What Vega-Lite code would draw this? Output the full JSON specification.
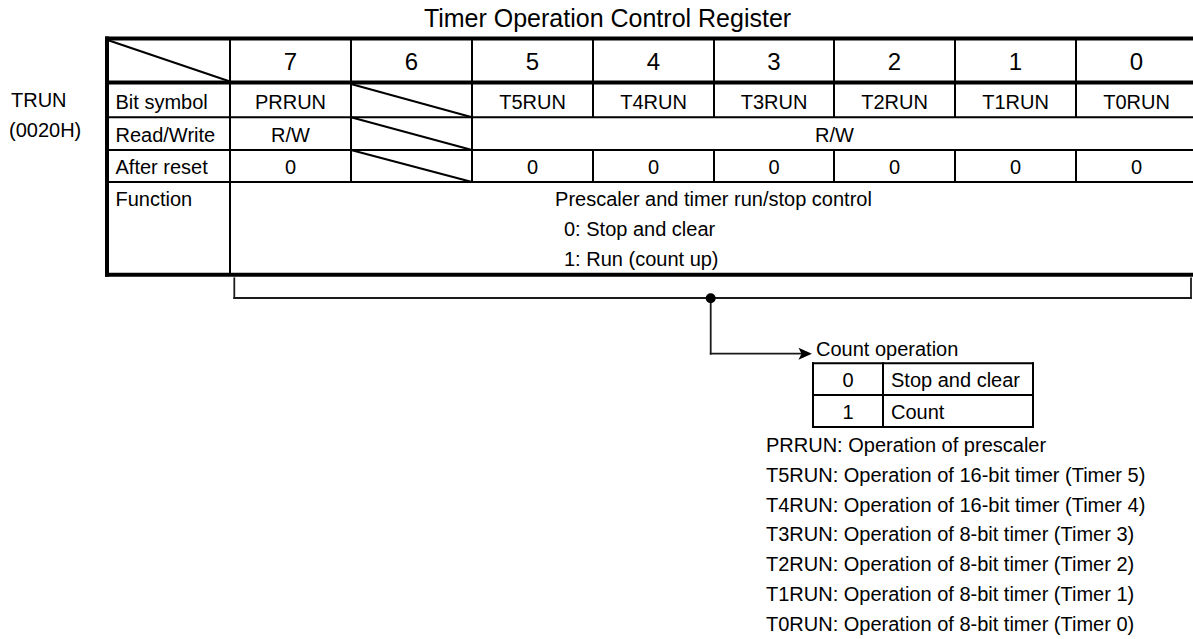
{
  "$schema": "https://vega.github.io/schema/vega-lite/v6.json",
  "width": 1193,
  "height": 639,
  "autosize": "none",
  "padding": 0,
  "background": "white",
  "config": {"view": {"stroke": null}},
  "datasets": {
    "lines": [
      {"x": 107, "y": 38.5, "x2": 1197, "y2": 38.5, "kind": "frame"},
      {"x": 107, "y": 82.5, "x2": 1197, "y2": 82.5, "kind": "frame"},
      {"x": 107, "y": 274.7, "x2": 1197, "y2": 274.7, "kind": "frame"},
      {"x": 107, "y": 38.5, "x2": 107, "y2": 274.7, "kind": "frame"},
      {"x": 107, "y": 117.3, "x2": 1197, "y2": 117.3, "kind": "grid"},
      {"x": 107, "y": 150, "x2": 1197, "y2": 150, "kind": "grid"},
      {"x": 107, "y": 182, "x2": 1197, "y2": 182, "kind": "grid"},
      {"x": 230, "y": 38.5, "x2": 230, "y2": 274.7, "kind": "grid"},
      {"x": 351, "y": 38.5, "x2": 351, "y2": 182, "kind": "grid"},
      {"x": 472, "y": 38.5, "x2": 472, "y2": 182, "kind": "grid"},
      {"x": 593, "y": 38.5, "x2": 593, "y2": 117.3, "kind": "grid"},
      {"x": 714, "y": 38.5, "x2": 714, "y2": 117.3, "kind": "grid"},
      {"x": 834, "y": 38.5, "x2": 834, "y2": 117.3, "kind": "grid"},
      {"x": 955, "y": 38.5, "x2": 955, "y2": 117.3, "kind": "grid"},
      {"x": 1076, "y": 38.5, "x2": 1076, "y2": 117.3, "kind": "grid"},
      {"x": 593, "y": 150, "x2": 593, "y2": 182, "kind": "grid"},
      {"x": 714, "y": 150, "x2": 714, "y2": 182, "kind": "grid"},
      {"x": 834, "y": 150, "x2": 834, "y2": 182, "kind": "grid"},
      {"x": 955, "y": 150, "x2": 955, "y2": 182, "kind": "grid"},
      {"x": 1076, "y": 150, "x2": 1076, "y2": 182, "kind": "grid"},
      {"x": 109, "y": 40.5, "x2": 230, "y2": 81.5, "kind": "grid"},
      {"x": 351, "y": 84, "x2": 472, "y2": 117.3, "kind": "grid"},
      {"x": 351, "y": 117.3, "x2": 472, "y2": 150, "kind": "grid"},
      {"x": 351, "y": 150, "x2": 472, "y2": 182, "kind": "grid"},
      {"x": 234.3, "y": 278.3, "x2": 234.3, "y2": 298, "kind": "conn"},
      {"x": 234.3, "y": 298, "x2": 1191, "y2": 298, "kind": "conn"},
      {"x": 1191, "y": 278.3, "x2": 1191, "y2": 298, "kind": "conn"},
      {"x": 710.7, "y": 298, "x2": 710.7, "y2": 353.7, "kind": "conn"},
      {"x": 710.7, "y": 353.7, "x2": 803, "y2": 353.7, "kind": "conn"},
      {"x": 813, "y": 363.3, "x2": 1033, "y2": 363.3, "kind": "box"},
      {"x": 813, "y": 395, "x2": 1033, "y2": 395, "kind": "box"},
      {"x": 813, "y": 427, "x2": 1033, "y2": 427, "kind": "box"},
      {"x": 813, "y": 363.3, "x2": 813, "y2": 427, "kind": "box"},
      {"x": 1033, "y": 363.3, "x2": 1033, "y2": 427, "kind": "box"},
      {"x": 883, "y": 363.3, "x2": 883, "y2": 427, "kind": "box"}
    ],
    "marks": [
      {"x": 710.7, "y": 298.3, "kind": "dot"},
      {"x": 805.2, "y": 353.7, "kind": "arrow"}
    ],
    "texts": [
      {"x": 607.5, "y": 27, "label": "Timer Operation Control Register", "kind": "title"},
      {"x": 290.5, "y": 70, "label": "7", "kind": "big"},
      {"x": 411.5, "y": 70, "label": "6", "kind": "big"},
      {"x": 532.5, "y": 70, "label": "5", "kind": "big"},
      {"x": 653.5, "y": 70, "label": "4", "kind": "big"},
      {"x": 774, "y": 70, "label": "3", "kind": "big"},
      {"x": 894.5, "y": 70, "label": "2", "kind": "big"},
      {"x": 1015.5, "y": 70, "label": "1", "kind": "big"},
      {"x": 1136.5, "y": 70, "label": "0", "kind": "big"},
      {"x": 290.5, "y": 108.8, "label": "PRRUN", "kind": "center"},
      {"x": 532.5, "y": 108.8, "label": "T5RUN", "kind": "center"},
      {"x": 653.5, "y": 108.8, "label": "T4RUN", "kind": "center"},
      {"x": 774, "y": 108.8, "label": "T3RUN", "kind": "center"},
      {"x": 894.5, "y": 108.8, "label": "T2RUN", "kind": "center"},
      {"x": 1015.5, "y": 108.8, "label": "T1RUN", "kind": "center"},
      {"x": 1136.5, "y": 108.8, "label": "T0RUN", "kind": "center"},
      {"x": 290.5, "y": 141.7, "label": "R/W", "kind": "center"},
      {"x": 834.5, "y": 141.7, "label": "R/W", "kind": "center"},
      {"x": 290.5, "y": 174, "label": "0", "kind": "center"},
      {"x": 532.5, "y": 174, "label": "0", "kind": "center"},
      {"x": 653.5, "y": 174, "label": "0", "kind": "center"},
      {"x": 774, "y": 174, "label": "0", "kind": "center"},
      {"x": 894.5, "y": 174, "label": "0", "kind": "center"},
      {"x": 1015.5, "y": 174, "label": "0", "kind": "center"},
      {"x": 1136.5, "y": 174, "label": "0", "kind": "center"},
      {"x": 713.5, "y": 205.7, "label": "Prescaler and timer run/stop control", "kind": "center"},
      {"x": 848, "y": 387.3, "label": "0", "kind": "center"},
      {"x": 848, "y": 419, "label": "1", "kind": "center"},
      {"x": 11, "y": 107.3, "label": "TRUN", "kind": "left"},
      {"x": 9, "y": 137.3, "label": "(0020H)", "kind": "left"},
      {"x": 115.5, "y": 109, "label": "Bit symbol", "kind": "left"},
      {"x": 115.5, "y": 141.7, "label": "Read/Write", "kind": "left"},
      {"x": 115.5, "y": 174, "label": "After reset", "kind": "left"},
      {"x": 115.5, "y": 205.7, "label": "Function", "kind": "left"},
      {"x": 564, "y": 235.7, "label": "0: Stop and clear", "kind": "left"},
      {"x": 564, "y": 265.7, "label": "1: Run (count up)", "kind": "left"},
      {"x": 816, "y": 355.5, "label": "Count operation", "kind": "left"},
      {"x": 891, "y": 387.3, "label": "Stop and clear", "kind": "left"},
      {"x": 891, "y": 419, "label": "Count", "kind": "left"},
      {"x": 766, "y": 451.7, "label": "PRRUN: Operation of prescaler", "kind": "left"},
      {"x": 766, "y": 481.7, "label": "T5RUN: Operation of 16-bit timer (Timer 5)", "kind": "left"},
      {"x": 766, "y": 511.5, "label": "T4RUN: Operation of 16-bit timer (Timer 4)", "kind": "left"},
      {"x": 766, "y": 541.3, "label": "T3RUN: Operation of 8-bit timer (Timer 3)", "kind": "left"},
      {"x": 766, "y": 571.2, "label": "T2RUN: Operation of 8-bit timer (Timer 2)", "kind": "left"},
      {"x": 766, "y": 601, "label": "T1RUN: Operation of 8-bit timer (Timer 1)", "kind": "left"},
      {"x": 766, "y": 630.8, "label": "T0RUN: Operation of 8-bit timer (Timer 0)", "kind": "left"}
    ]
  },
  "encoding": {
    "x": {"field": "x", "type": "quantitative", "scale": {"domain": [0, 1193], "nice": false, "zero": false}, "axis": null},
    "y": {"field": "y", "type": "quantitative", "scale": {"domain": [0, 639], "nice": false, "zero": false, "reverse": true}, "axis": null}
  },
  "layer": [
    {
      "data": {"name": "lines"},
      "transform": [{"filter": "datum.kind === 'grid'"}],
      "mark": {"type": "rule", "color": "#000000", "strokeWidth": 2, "clip": true},
      "encoding": {"x2": {"field": "x2"}, "y2": {"field": "y2"}}
    },
    {
      "data": {"name": "lines"},
      "transform": [{"filter": "datum.kind === 'conn'"}],
      "mark": {"type": "rule", "color": "#1a1a1a", "strokeWidth": 1.8, "strokeCap": "square", "clip": true},
      "encoding": {"x2": {"field": "x2"}, "y2": {"field": "y2"}}
    },
    {
      "data": {"name": "lines"},
      "transform": [{"filter": "datum.kind === 'box'"}],
      "mark": {"type": "rule", "color": "#000000", "strokeWidth": 2, "strokeCap": "square", "clip": true},
      "encoding": {"x2": {"field": "x2"}, "y2": {"field": "y2"}}
    },
    {
      "data": {"name": "lines"},
      "transform": [{"filter": "datum.kind === 'frame'"}],
      "mark": {"type": "rule", "color": "#000000", "strokeWidth": 4, "strokeCap": "square", "clip": true},
      "encoding": {"x2": {"field": "x2"}, "y2": {"field": "y2"}}
    },
    {
      "data": {"name": "marks"},
      "transform": [{"filter": "datum.kind === 'dot'"}],
      "mark": {"type": "point", "shape": "circle", "filled": true, "color": "#000000", "opacity": 1, "size": 100}
    },
    {
      "data": {"name": "marks"},
      "transform": [{"filter": "datum.kind === 'arrow'"}],
      "mark": {"type": "point", "shape": "M1,0L-1,-0.9L-0.55,0L-1,0.9Z", "filled": true, "color": "#000000", "opacity": 1, "size": 180}
    },
    {
      "data": {"name": "texts"},
      "transform": [{"filter": "datum.kind === 'title'"}],
      "mark": {"type": "text", "font": "Liberation Sans", "fontSize": 25, "align": "center", "baseline": "alphabetic", "color": "#000000"},
      "encoding": {"text": {"field": "label"}}
    },
    {
      "data": {"name": "texts"},
      "transform": [{"filter": "datum.kind === 'big'"}],
      "mark": {"type": "text", "font": "Liberation Sans", "fontSize": 24, "align": "center", "baseline": "alphabetic", "color": "#000000"},
      "encoding": {"text": {"field": "label"}}
    },
    {
      "data": {"name": "texts"},
      "transform": [{"filter": "datum.kind === 'center'"}],
      "mark": {"type": "text", "font": "Liberation Sans", "fontSize": 20, "align": "center", "baseline": "alphabetic", "color": "#000000"},
      "encoding": {"text": {"field": "label"}}
    },
    {
      "data": {"name": "texts"},
      "transform": [{"filter": "datum.kind === 'left'"}],
      "mark": {"type": "text", "font": "Liberation Sans", "fontSize": 20, "align": "left", "baseline": "alphabetic", "color": "#000000"},
      "encoding": {"text": {"field": "label"}}
    }
  ]
}
